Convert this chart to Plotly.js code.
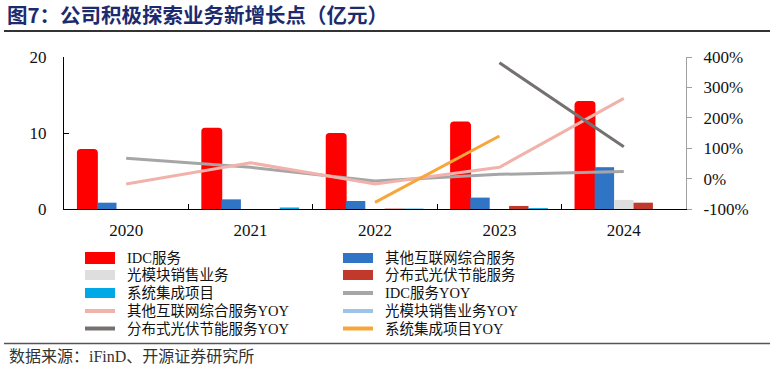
<!DOCTYPE html>
<html>
<head>
<meta charset="utf-8">
<script src="https://cdn.plot.ly/plotly-3.0.1.min.js"></script>
<style>
html,body{margin:0;padding:0;background:#fff;}
#chart{width:774px;height:374px;}
</style>
</head>
<body>
<div id="chart"></div>
<script>
// ---- data ----
const years = ['2020', '2021', '2022', '2023', '2024'];
const idc = [7.8, 10.6, 9.9, 11.4, 14.1];
const otherNet = [0.83, 1.27, 1.05, 1.5, 5.5];
const opticalModule = [0, 0, 0, 0, 1.2];
const solar = [0, 0, 0.05, 0.4, 0.83];
const sysInteg = [0, 0.2, 0.05, 0.12, 0];
const idcYoy = [67, 37, -8, 14, 23];
const otherNetYoy = [-18, 52, -18, 37, 264];
const opticalModuleYoy = [null, null, null, null, null];
const solarYoy = [null, null, null, 381, 105];
const sysIntegYoy = [null, null, -78, 140, null];

const barNames = ['IDC服务', '其他互联网综合服务', '光模块销售业务', '分布式光伏节能服务', '系统集成项目'];
const lineNames = ['IDC服务YOY', '其他互联网综合服务YOY', '光模块销售业务YOY', '分布式光伏节能服务YOY', '系统集成项目YOY'];
const leftTicks = [0, 10, 20];
const rightTicks = [-100, 0, 100, 200, 300, 400];
const rightTickText = ['-100%', '0%', '100%', '200%', '300%', '400%'];

// ---- styles ----
const barColors = ['#ff0000', '#2f74c5', '#dedede', '#c0392b', '#00a8e6'];
const lineColors = ['#a6a6a6', '#f0b2aa', '#9dc3e6', '#767171', '#f7a63a'];
const SERIF = '"Liberation Serif", "Times New Roman", "Noto Sans CJK SC", serif';
const CJK = '"Liberation Serif", "Noto Sans CJK SC", sans-serif';

const barSeries = [idc, otherNet, opticalModule, solar, sysInteg];
const lineSeries = [idcYoy, otherNetYoy, opticalModuleYoy, solarYoy, sysIntegYoy];

const traces = [];
barSeries.forEach((vals, i) => {
  traces.push({
    type: 'bar', x: years, y: vals, name: barNames[i],
    marker: {color: barColors[i], line: {width: i === 0 ? 1.5 : 0, color: barColors[i]}, cornerradius: i === 0 ? 3 : 0},
    yaxis: 'y', showlegend: false
  });
});
lineSeries.forEach((vals, i) => {
  traces.push({
    type: 'scatter', mode: 'lines', x: years, y: vals, name: lineNames[i],
    line: {color: lineColors[i], width: 3}, yaxis: 'y2', showlegend: false,
    connectgaps: false
  });
});

// ---- geometry helpers (pixels -> paper) ----
const L = 64, R = 686, T = 57, B = 209;
const px = p => (p - L) / (R - L);
const py = p => (B - p) / (B - T);

const shapes = [
  {type: 'line', xref: 'paper', yref: 'paper', x0: px(4), x1: px(770), y0: py(31), y1: py(31), line: {color: '#333333', width: 2}},
  {type: 'line', xref: 'paper', yref: 'paper', x0: px(4), x1: px(770), y0: py(343.5), y1: py(343.5), line: {color: '#555555', width: 1.5}}
];
const annotations = [
  {xref: 'paper', yref: 'paper', x: px(7), y: py(346), xanchor: 'left', yanchor: 'top', showarrow: false,
   text: '数据来源：iFinD、开源证券研究所', font: {family: CJK, size: 16, color: '#333333'}}
];

// manual legend: bars then lines, filled row-major in two columns
const legendItems = [];
barNames.forEach((n, i) => legendItems.push({name: n, color: barColors[i], kind: 'bar', idx: i}));
lineNames.forEach((n, i) => legendItems.push({name: n, color: lineColors[i], kind: 'line', idx: i}));
const rowY = [258, 275, 293, 311, 328.5];
const colSymX = [85, 343];
const colTxtX = [125, 383];
legendItems.forEach((it, k) => {
  const row = Math.floor(k / 2), col = k % 2;
  const yc = rowY[row];
  const x0 = colSymX[col], x1 = x0 + 30;
  if (it.kind === 'bar') {
    const h = it.idx === 0 ? 6 : 5;
    shapes.push({type: 'rect', xref: 'paper', yref: 'paper', x0: px(x0), x1: px(x1), y0: py(yc - h), y1: py(yc + h),
      fillcolor: it.color, line: {width: 0}});
  } else {
    shapes.push({type: 'line', xref: 'paper', yref: 'paper', x0: px(x0), x1: px(x1), y0: py(yc), y1: py(yc),
      line: {color: it.color, width: 4}});
  }
  annotations.push({xref: 'paper', yref: 'paper', x: px(colTxtX[col]), y: py(yc), xanchor: 'left', yanchor: 'middle',
    showarrow: false, text: it.name, font: {family: CJK, size: 14.5, color: '#111111'}});
});

const layout = {
  width: 774, height: 374,
  margin: {l: L, r: 774 - R, t: T, b: 374 - B, pad: 0},
  paper_bgcolor: '#ffffff', plot_bgcolor: '#ffffff',
  showlegend: false,
  barmode: 'group', bargap: 0.22, bargroupgap: 0,
  title: {text: '图7：公司积极探索业务新增长点（亿元）', x: 7 / 774, xanchor: 'left', xref: 'container',
    y: 1 - 16 / 374, yanchor: 'middle', yref: 'container',
    font: {family: '"Noto Sans CJK SC", sans-serif', size: 20.5, color: '#1d2b6e', weight: 'bold'}},
  font: {family: SERIF, color: '#111111'},
  xaxis: {
    type: 'category', tickson: 'boundaries', ticks: 'inside', ticklen: 5, tickcolor: '#000000', tickwidth: 1,
    showline: true, linecolor: '#000000', linewidth: 1, showgrid: false, zeroline: false,
    tickfont: {family: SERIF, size: 17, color: '#111111'}, ticklabelstandoff: 6, fixedrange: true
  },
  yaxis: {
    range: [0, 20], tickvals: leftTicks, ticks: 'inside', ticklen: 5, tickcolor: '#000000',
    showline: true, linecolor: '#000000', linewidth: 1, showgrid: false, zeroline: false,
    tickfont: {family: SERIF, size: 17, color: '#111111'}, ticklabelstandoff: 13, fixedrange: true
  },
  yaxis2: {
    overlaying: 'y', side: 'right', range: [-100, 400], tickvals: rightTicks, ticktext: rightTickText,
    ticks: 'outside', ticklen: 5, tickcolor: '#a0a0a0', showline: true, linecolor: '#a0a0a0', linewidth: 1,
    showgrid: false, zeroline: false, tickfont: {family: SERIF, size: 17, color: '#111111'},
    ticklabelstandoff: 8, fixedrange: true
  },
  shapes: shapes,
  annotations: annotations
};

Plotly.newPlot('chart', traces, layout, {displayModeBar: false, staticPlot: true});
</script>
</body>
</html>
